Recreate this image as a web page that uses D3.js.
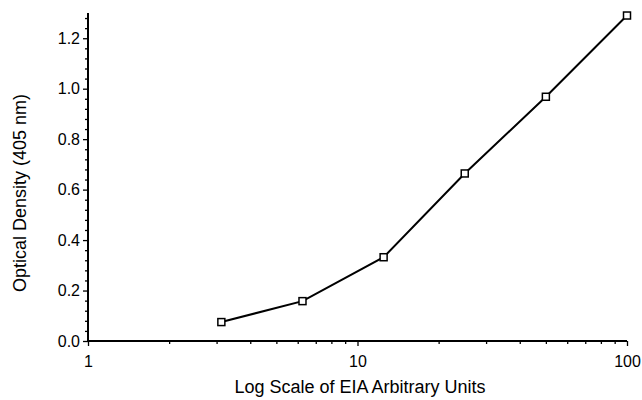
<!DOCTYPE html>
<html><head><meta charset="utf-8">
<script src="https://cdn.jsdelivr.net/npm/d3@7"></script>
<style>body{margin:0;background:#fff}svg{display:block}text{font-family:"Liberation Sans",Arial,sans-serif;fill:#000}</style>
</head><body><svg id="c" width="642" height="400"></svg>
<script>
const units = [3.125, 6.25, 12.5, 25, 50, 100];
const density = [0.075, 0.158, 0.332, 0.664, 0.968, 1.29];
const xTicks = [1, 10, 100];
const yTicks = [0.0, 0.2, 0.4, 0.6, 0.8, 1.0, 1.2];
const xTitle = "Log Scale of EIA Arbitrary Units";
const yTitle = "Optical Density (405 nm)";

const svg = d3.select("#c");
const x0 = 88, x1 = 627, y0 = 341, y1 = 13;
const x = d3.scaleLog().domain([1, 100]).range([x0, x1]);
const y = d3.scaleLinear().domain([0, 1.3]).range([y0, y1]);

// x axis
const xMinor = [];
for (let d = 1; d < 100; d *= 10) for (let k = 2; k <= 9; k++) xMinor.push(d * k);
const gx = svg.append("g").attr("transform", `translate(0,${y0})`);
gx.call(d3.axisBottom(x).tickValues(xMinor).tickSize(3).tickFormat("").tickSizeOuter(0))
  .call(g => g.select(".domain").remove());
gx.append("g").call(d3.axisBottom(x).tickValues(xTicks).tickSize(5).tickPadding(10).tickSizeOuter(0).tickFormat(d3.format("d")))
  .call(g => g.selectAll("text").attr("font-size", 16).attr("font-family", "Liberation Sans, Arial").attr("fill", "#000"))
  .call(g => g.select(".domain").attr("stroke-width", 2).attr("d", `M${x0},0H${x1}`));

// y axis
const yMinor = d3.range(0, 1.31, 0.04).filter(v => !yTicks.some(t => Math.abs(t - v) < 1e-6));
const gy = svg.append("g").attr("transform", `translate(${x0},0)`);
gy.call(d3.axisLeft(y).tickValues(yMinor).tickSize(3).tickFormat("").tickSizeOuter(0))
  .call(g => g.select(".domain").remove());
gy.append("g").call(d3.axisLeft(y).tickValues(yTicks).tickSize(5).tickPadding(3).tickSizeOuter(0).tickFormat(d3.format(".1f")))
  .call(g => g.selectAll("text").attr("font-size", 16).attr("font-family", "Liberation Sans, Arial").attr("fill", "#000"))
  .call(g => g.select(".domain").attr("stroke-width", 2).attr("d", `M0,${y0}V${y1}`));
svg.selectAll(".tick line").attr("stroke", "#000").attr("stroke-width", 1.3);

// titles
svg.append("text").attr("x", 360).attr("y", 393).attr("text-anchor", "middle").attr("font-size", 18).text(xTitle);
svg.append("text").attr("transform", "translate(26,193) rotate(-90)").attr("text-anchor", "middle").attr("font-size", 18).text(yTitle);

// line
const pts = units.map((u, i) => [u, density[i]]);
svg.append("path").datum(pts).attr("fill", "none").attr("stroke", "#000").attr("stroke-width", 2)
  .attr("d", d3.line().x(d => x(d[0])).y(d => y(d[1])));
svg.selectAll("rect.m").data(pts).join("rect").attr("class", "m")
  .attr("x", d => x(d[0]) - 3.5).attr("y", d => y(d[1]) - 3.5).attr("width", 7).attr("height", 7)
  .attr("fill", "#fff").attr("stroke", "#000").attr("stroke-width", 1.5);
</script></body></html>
